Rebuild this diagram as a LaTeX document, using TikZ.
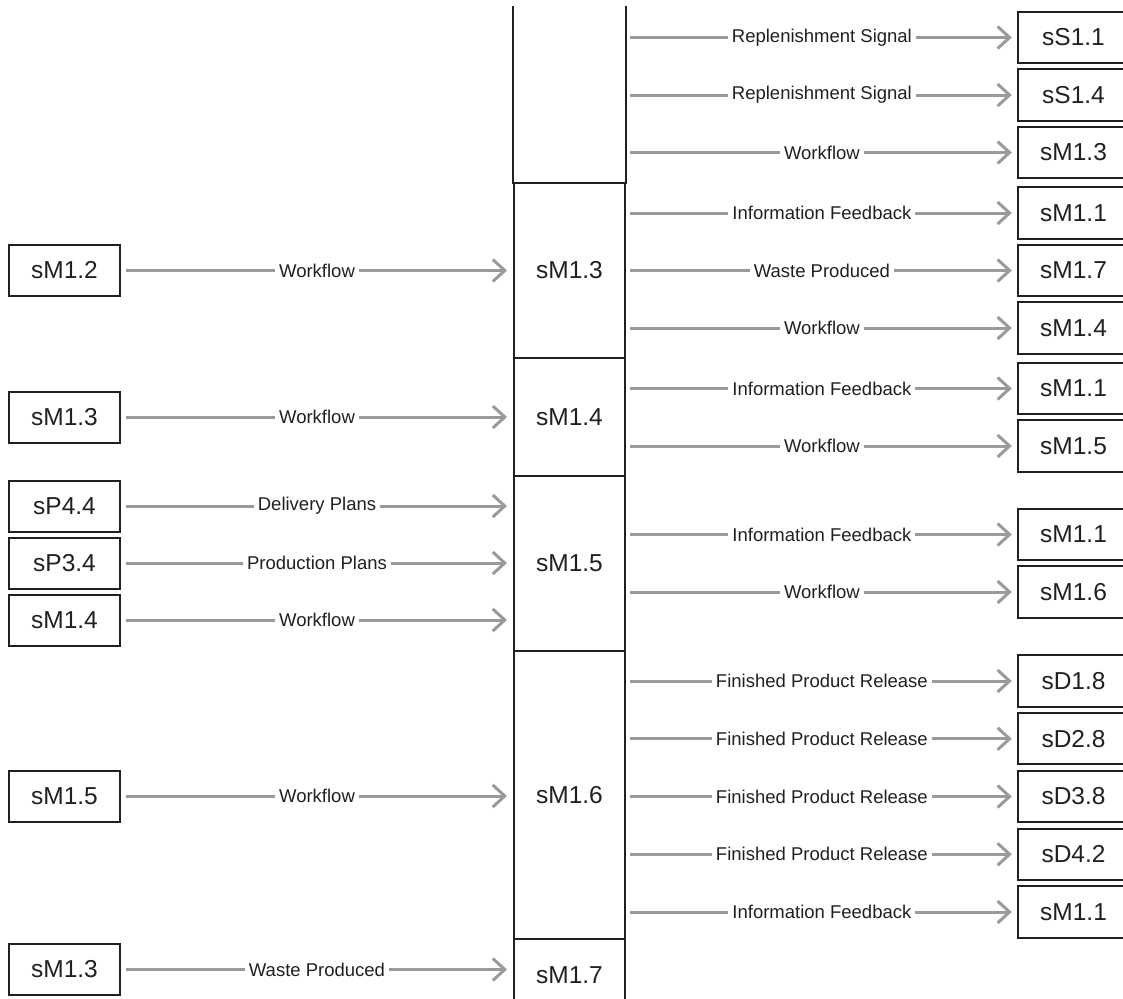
\documentclass[tikz,border=0pt]{standalone}
\usepackage{fontspec}
\setmainfont{Liberation Sans}
\usetikzlibrary{arrows.meta}
\definecolor{ink}{HTML}{231F20}
\definecolor{flowgray}{HTML}{9A9A9A}
\begin{document}
\begin{tikzpicture}[x=1pt,y=-1pt,
  box/.style={draw=ink, line width=2pt, minimum width=111pt, minimum height=51pt,
    inner sep=0pt, text=ink, font=\fontsize{24.5}{26}\selectfont},
  openbox/.style={minimum width=111pt, minimum height=51pt,
    inner sep=0pt, text=ink, font=\fontsize{24.5}{26}\selectfont},
  boxedge/.style={draw=ink, line width=2pt},
  seg/.style={draw=ink, line width=2pt, minimum width=111pt, inner sep=0pt,
    text=ink, font=\fontsize{24.5}{26}\selectfont},
  flow/.style={draw=flowgray, line width=3pt,
    -{Straight Barb[length=12pt,width=22pt]}},
  lbl/.style={fill=white, text=ink, inner xsep=4pt, inner ysep=2pt,
    font=\fontsize{18.5}{20}\selectfont},
  inarrow/.style={flow, shorten <=5pt, shorten >=6pt},
  outarrow/.style={flow, shorten <=4pt, shorten >=6pt},
]
\useasboundingbox (0,0) rectangle (1123,998);

% central process column
\node[seg, draw=none, minimum height=176pt] (c0) at (569.5,95) {};
\draw[boxedge] (c0.north west) -- (c0.south west)
  (c0.north east) -- (c0.south east);
\node[seg, minimum height=175pt] (c1) at (569.5,270.5) {sM1.3};
\node[seg, minimum height=118pt] (c2) at (569.5,417) {sM1.4};
\node[seg, minimum height=175pt] (c3) at (569.5,563.5) {sM1.5};
\node[seg, minimum height=288pt] (c4) at (569.5,795) {sM1.6};
\node[seg, minimum height=73pt] (c5) at (569.5,975.5) {sM1.7};

% inputs on the left
\node[box] (l1) at (64.5,270.5) {sM1.2};
\node[box] (l2) at (64.5,417) {sM1.3};
\node[box] (l3) at (64.5,506) {sP4.4};
\node[box] (l4) at (64.5,563) {sP3.4};
\node[box] (l5) at (64.5,620) {sM1.4};
\node[box] (l6) at (64.5,796) {sM1.5};
\node[box] (l7) at (64.5,969.5) {sM1.3};

\draw[inarrow] (l1.east) -- node[lbl] {Workflow} (l1.east -| c1.west);
\draw[inarrow] (l2.east) -- node[lbl] {Workflow} (l2.east -| c2.west);
\draw[inarrow] (l3.east) -- node[lbl] {Delivery Plans} (l3.east -| c3.west);
\draw[inarrow] (l4.east) -- node[lbl] {Production Plans} (l4.east -| c3.west);
\draw[inarrow] (l5.east) -- node[lbl] {Workflow} (l5.east -| c3.west);
\draw[inarrow] (l6.east) -- node[lbl] {Workflow} (l6.east -| c4.west);
\draw[inarrow] (l7.east) -- node[lbl] {Waste Produced} (l7.east -| c5.west);

% outputs on the right
\node[openbox] (r1) at (1073.5,37.5) {sS1.1};
\node[openbox] (r2) at (1073.5,95) {sS1.4};
\node[openbox] (r3) at (1073.5,152.5) {sM1.3};
\node[openbox] (r4) at (1073.5,213) {sM1.1};
\node[openbox] (r5) at (1073.5,270.5) {sM1.7};
\node[openbox] (r6) at (1073.5,328) {sM1.4};
\node[openbox] (r7) at (1073.5,388.5) {sM1.1};
\node[openbox] (r8) at (1073.5,446) {sM1.5};
\node[openbox] (r9) at (1073.5,534.5) {sM1.1};
\node[openbox] (r10) at (1073.5,592) {sM1.6};
\node[openbox] (r11) at (1073.5,681) {sD1.8};
\node[openbox] (r12) at (1073.5,738.75) {sD2.8};
\node[openbox] (r13) at (1073.5,796.5) {sD3.8};
\node[openbox] (r14) at (1073.5,854.25) {sD4.2};
\node[openbox] (r15) at (1073.5,912) {sM1.1};

% these boxes run past the page edge, so their right side is never seen
\foreach \b in {r1,r2,r3,r4,r5,r6,r7,r8,r9,r10,r11,r12,r13,r14,r15}
  \draw[boxedge] ([xshift=30pt]\b.north east) -- (\b.north west)
    -- (\b.south west) -- ([xshift=30pt]\b.south east);

\draw[outarrow] (c0.east |- r1.west) -- node[lbl] {Replenishment Signal} (r1.west);
\draw[outarrow] (c0.east |- r2.west) -- node[lbl] {Replenishment Signal} (r2.west);
\draw[outarrow] (c0.east |- r3.west) -- node[lbl] {Workflow} (r3.west);
\draw[outarrow] (c1.east |- r4.west) -- node[lbl] {Information Feedback} (r4.west);
\draw[outarrow] (c1.east |- r5.west) -- node[lbl] {Waste Produced} (r5.west);
\draw[outarrow] (c1.east |- r6.west) -- node[lbl] {Workflow} (r6.west);
\draw[outarrow] (c2.east |- r7.west) -- node[lbl] {Information Feedback} (r7.west);
\draw[outarrow] (c2.east |- r8.west) -- node[lbl] {Workflow} (r8.west);
\draw[outarrow] (c3.east |- r9.west) -- node[lbl] {Information Feedback} (r9.west);
\draw[outarrow] (c3.east |- r10.west) -- node[lbl] {Workflow} (r10.west);
\draw[outarrow] (c4.east |- r11.west) -- node[lbl] {Finished Product Release} (r11.west);
\draw[outarrow] (c4.east |- r12.west) -- node[lbl] {Finished Product Release} (r12.west);
\draw[outarrow] (c4.east |- r13.west) -- node[lbl] {Finished Product Release} (r13.west);
\draw[outarrow] (c4.east |- r14.west) -- node[lbl] {Finished Product Release} (r14.west);
\draw[outarrow] (c4.east |- r15.west) -- node[lbl] {Information Feedback} (r15.west);
\end{tikzpicture}
\end{document}
